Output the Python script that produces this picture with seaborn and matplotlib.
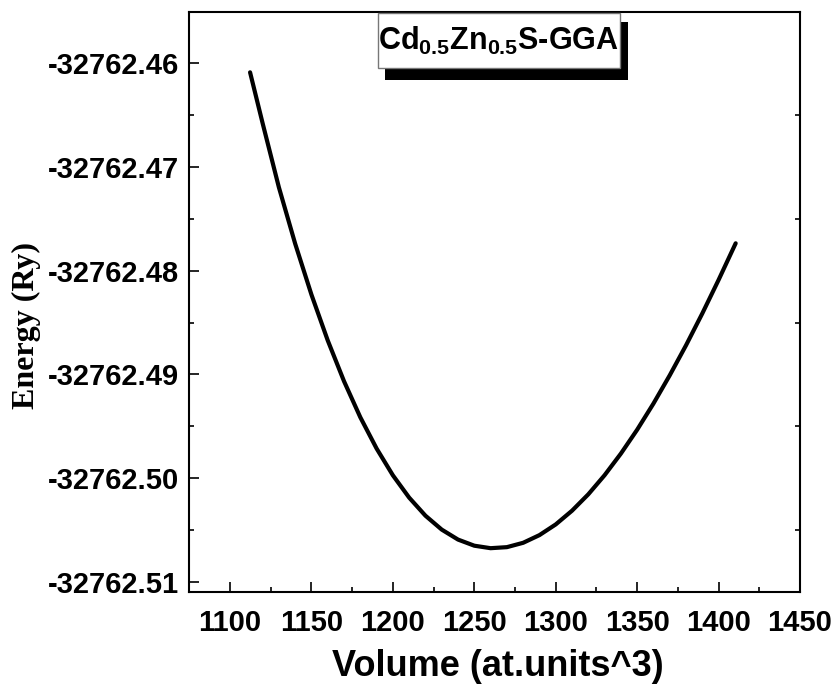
import matplotlib
matplotlib.use("Agg")
import matplotlib.pyplot as plt
from matplotlib.patches import Rectangle
from matplotlib.ticker import FormatStrFormatter, MultipleLocator
import numpy as np
import pandas as pd
import seaborn as sns

# E(V) curve for Cd0.5Zn0.5S (GGA)
volume = [1112.3, 1120, 1130, 1140, 1150, 1160, 1170, 1180, 1190, 1200,
          1210, 1220, 1230, 1240, 1250, 1260, 1270, 1280, 1290, 1300,
          1310, 1320, 1330, 1340, 1350, 1360, 1370, 1380, 1390, 1400, 1410.5]
energy = [-32762.46090, -32762.46580, -32762.47198, -32762.47741, -32762.48232,
          -32762.48673, -32762.49066, -32762.49413, -32762.49714, -32762.49972,
          -32762.50187, -32762.50361, -32762.50495, -32762.50591, -32762.50650,
          -32762.50674, -32762.50664, -32762.50622, -32762.50548, -32762.50445,
          -32762.50313, -32762.50155, -32762.49971, -32762.49763, -32762.49533,
          -32762.49281, -32762.49009, -32762.48720, -32762.48413, -32762.48090,
          -32762.47737]

x_ticks = [1100, 1150, 1200, 1250, 1300, 1350, 1400, 1450]
y_ticks = [-32762.51, -32762.50, -32762.49, -32762.48, -32762.47, -32762.46]

sns.set_style("ticks")
plt.rcParams["font.family"] = ["Liberation Sans", "DejaVu Sans"]
plt.rcParams["mathtext.default"] = "regular"
plt.rcParams["text.color"] = "black"
plt.rcParams["axes.labelcolor"] = "black"
plt.rcParams["xtick.color"] = "black"
plt.rcParams["ytick.color"] = "black"
plt.rcParams["axes.edgecolor"] = "black"

df = pd.DataFrame({"Volume": volume, "Energy": energy})

fig = plt.figure(figsize=(8.35, 6.98), dpi=100)
ax = fig.add_axes([189 / 835, 1 - 592 / 698, 611 / 835, 580 / 698])

sns.lineplot(data=df, x="Volume", y="Energy", color="black", linewidth=3.0,
             sort=True, ax=ax)

ax.set_xlim(1074.8, 1450)
ax.set_ylim(-32762.51096, -32762.45509)
ax.set_xticks(x_ticks)
ax.set_yticks(y_ticks)
ax.xaxis.set_minor_locator(MultipleLocator(25))
ax.yaxis.set_minor_locator(MultipleLocator(0.005))
ax.yaxis.set_major_formatter(FormatStrFormatter("%.2f"))
ax.xaxis.set_major_formatter(FormatStrFormatter("%d"))

for sp in ax.spines.values():
    sp.set_visible(True)
    sp.set_linewidth(1.5)
    sp.set_color("black")

ax.tick_params(axis="both", which="major", direction="in", length=7.5, width=1.2,
               labelsize=21, pad=7, top=False, right=False,
               colors="black", labelcolor="black")
ax.tick_params(axis="x", which="major", pad=12)
ax.tick_params(axis="both", which="minor", direction="in", length=3.8, width=1.2,
               top=False, colors="black")
ax.tick_params(axis="y", which="minor", right=True, left=True)
for lbl in ax.get_xticklabels() + ax.get_yticklabels():
    lbl.set_fontweight("bold")

ax.set_xlabel("Volume (at.units^3)", fontsize=26, fontweight="bold", color="black")
ax.xaxis.set_label_coords(0.5057, -0.128)
ax.xaxis.label.set_va("center")

ax.set_ylabel("Energy (Ry)", fontsize=23, fontweight="bold", color="black",
              family=["Liberation Serif", "DejaVu Serif"])
ax.yaxis.set_label_coords(-0.266, 0.4603)
ax.yaxis.label.set_va("center")

# Title box with drop shadow
ax.add_patch(Rectangle((0.3208, 0.8828), 0.3977, 0.0991, transform=ax.transAxes,
                       facecolor="black", edgecolor="none", clip_on=False, zorder=5))
ax.add_patch(Rectangle((0.3093, 0.9034), 0.3961, 0.0949, transform=ax.transAxes,
                       facecolor="white", edgecolor="#777777", linewidth=1.0,
                       clip_on=False, zorder=6))
ax.text(0.507, 0.950, "Cd$_{0.5}$Zn$_{0.5}$S-GGA", transform=ax.transAxes,
        ha="center", va="center", fontsize=22, fontweight="bold",
        color="black", zorder=7)

fig.savefig("out.png", dpi=100)
